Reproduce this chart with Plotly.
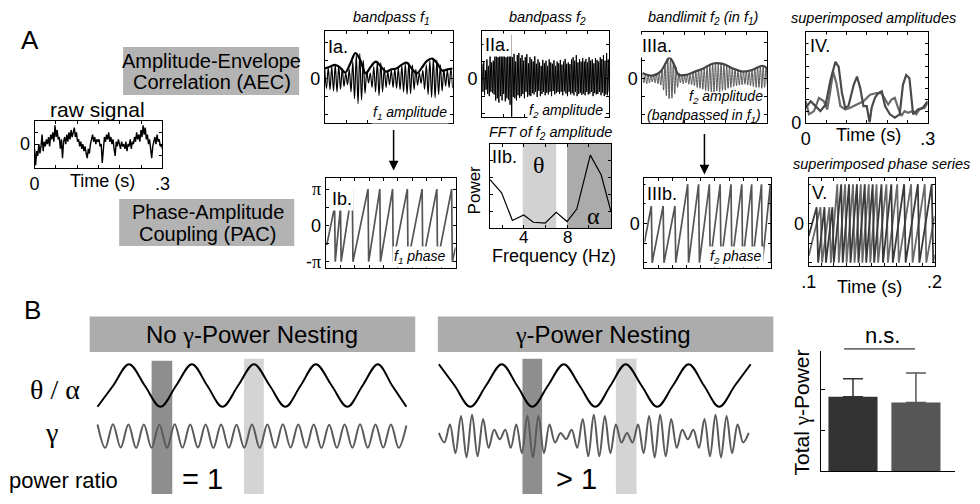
import numpy as np
import plotly.graph_objects as go

W, H = 980, 504
SANS = "Liberation Sans, Arial, Helvetica, sans-serif"
SERIF = "Liberation Serif, Times New Roman, serif"
PI = float(np.pi)

# ------------------------------------------------------------------ data
# raw signal (0 .. 0.3 s)
RAW = [-0.2, -0.9, -0.3, -0.5, 0.0, -0.4, -0.1, 0.4, -0.3, 0.1, -0.1, 0.2,
       0.0, 0.3, -0.1, 0.4, 0.2, 0.5, 0.1, 0.8, 0.3, 0.6, 0.2, 0.3,
       -0.2, 0.2, -0.6, 0.1, 0.3, 0.0, 0.4, 0.1, 0.5, 0.2, 0.6, 0.3,
       0.5, 0.7, 0.3, 0.5, 0.1, 0.2, -0.1, 0.1, -0.2, 0.0, -0.3, -0.1,
       -0.4, -0.6, -0.2, -0.4, 0.0, 0.2, 0.4, 0.1, 0.3, 0.0, 0.2, 0.1,
       0.2, -0.1, 0.0, -0.8, -0.2, 0.3, 0.1, 0.4, 0.2, 0.5, 0.1, 0.3,
       0.0, 0.2, -0.2, -0.5, 0.1, -0.1, 0.2, 0.0, -0.2, 0.1, -0.1, 0.0,
       -0.2, 0.1, -0.3, 0.0, -0.1, 0.2, -0.2, 0.1, 0.0, 0.3, 0.1, 0.5,
       0.2, 0.4, 0.1, 0.6, 0.3, 0.8, 0.4, 0.7, 0.2, 0.4, 0.0, 0.2,
       -0.3, -0.6, -0.1, 0.1, 0.3, 0.0, 0.4, 0.1, 0.2, -0.1, 0.0, -0.2]

# Ia: f1 band-passed signal (carrier extrema) and its amplitude envelope
IA_CARRIER = [0.2, -0.22, 0.24, -0.25, 0.26, -0.28, 0.3, -0.3, 0.28, -0.24, 0.22, -0.18,
              0.12, -0.14, 0.2, -0.3, 0.38, -0.45, 0.52, -0.56, 0.55, -0.48, 0.4, -0.33,
              0.15, -0.1, 0.12, -0.2, 0.26, -0.3, 0.36, -0.38, 0.35, -0.3, 0.24, -0.2,
              0.15, -0.14, 0.18, -0.2, 0.21, -0.22, 0.23, -0.25, 0.28, -0.3, 0.32, -0.35,
              0.35, -0.34, 0.3, -0.25, 0.2, -0.15, 0.12, -0.11, 0.18, -0.24, 0.3, -0.36,
              0.4, -0.42, 0.44, -0.43, 0.4, -0.36, 0.3, -0.28, 0.2, -0.17, 0.19, -0.2,
              0.21, -0.22]
IA_ENV = [0.22, 0.26, 0.30, 0.24, 0.13, 0.33, 0.56, 0.39, 0.11, 0.26, 0.37, 0.26, 0.15,
          0.20, 0.22, 0.30, 0.35, 0.22, 0.11, 0.24, 0.39, 0.44, 0.33, 0.17, 0.20, 0.22]

# Ib: f1 phase (sawtooth) -- peak times (s) and phase reached at each peak
IB_START = (0.0023, -1.7)
IB_PEAKS = [0.0205, 0.0341, 0.0614, 0.0977, 0.1250, 0.1545, 0.1886, 0.2227, 0.2568, 0.2909]
IB_PEAK_PH = [1.6, 1.6, PI, PI, PI, PI, PI, PI, PI, PI]
IB_END = (0.3, -1.9)

# IIa: f2 band-passed signal (dense extrema)
IIA = [0.35, -0.3, 0.4, -0.38, 0.2, -0.25, 0.45, -0.35, 0.3, -0.4, 0.55, -0.3, 0.38, -0.33, 0.42, -0.36,
       0.6, -0.5, 0.7, -0.45, 0.5, -0.55, 0.72, -0.4, 0.55, -0.5, 0.65, -0.35, 0.7, -0.52, 0.5, -0.45,
       0.62, -0.48, 0.55, -0.6, 1.02, -0.92, 0.5, -0.42, 0.58, -0.45, 0.4, -0.5, 0.55, -0.38, 0.6, -0.44,
       0.48, -0.4, 0.55, -0.35, 0.42, -0.45, 0.5, -0.3, 0.57, -0.42, 0.36, -0.38, 0.5, -0.4, 0.45, -0.33,
       0.4, -0.36, 0.52, -0.3, 0.35, -0.42, 0.45, -0.28, 0.38, -0.4, 0.3, -0.35, 0.44, -0.3, 0.36, -0.38,
       0.42, -0.32, 0.3, -0.36, 0.45, -0.3, 0.38, -0.4, 0.35, -0.28, 0.43, -0.36, 0.3, -0.33, 0.4, -0.3,
       0.36, -0.35, 0.44, -0.3, 0.33, -0.38, 0.4, -0.29, 0.46, -0.34, 0.35, -0.4, 0.38, -0.3, 0.34, -0.36,
       0.45, -0.33, 0.5, -0.38, 0.42, -0.3, 0.55, -0.4, 0.38, -0.35, 0.46, -0.32, 0.4, -0.37, 0.48, -0.34,
       0.4, -0.38, 0.46, -0.3, 0.38, -0.36, 0.5, -0.34, 0.42, -0.3, 0.45, -0.4, 0.36, -0.33, 0.48, -0.36,
       0.44, -0.35, 0.4, -0.3, 0.5, -0.38, 0.46, -0.32, 0.55, -0.4, 0.42, -0.36, 0.6, -0.38, 0.45, -0.3]

# IIb: spectrum of f2 amplitude
IIB_FREQ = [0.88, 1.95, 2.95, 4.0, 4.88, 5.97, 7.0, 8.0, 8.9, 10.15, 11.15, 12.06]
IIB_POWER = [0.578, 0.422, 0.093, 0.159, 0.073, 0.062, 0.19, 0.081, 0.229, 0.869, 0.636, 0.198]
IIB_TICK_LABELS = [4, 8]
THETA_BAND = [3.9, 7.0]
ALPHA_BAND = [8.0, 12.06]

# IIIa: f2 amplitude band-passed in f1 (carrier extrema) and envelope
IIIA_CARRIER = [0.12, -0.1, 0.1, -0.12, 0.08, -0.1, 0.07,
                -0.08, 0.06, -0.1, 0.09, -0.12, 0.12, -0.15,
                0.2, -0.26, 0.33, -0.38, 0.44, -0.45, 0.46,
                -0.44, 0.36, -0.34, 0.25, -0.2, 0.12, -0.1,
                0.08, -0.12, 0.07, -0.1, 0.09, -0.13, 0.1,
                -0.14, 0.13, -0.16, 0.15, -0.2, 0.17, -0.22,
                0.2, -0.24, 0.23, -0.27, 0.26, -0.28, 0.3,
                -0.3, 0.33, -0.3, 0.33, -0.28, 0.32, -0.3,
                0.32, -0.27, 0.3, -0.26, 0.28, -0.22, 0.25,
                -0.2, 0.22, -0.18, 0.2, -0.16, 0.18, -0.15,
                0.15, -0.14, 0.16, -0.13, 0.17, -0.15, 0.18,
                -0.16, 0.19, -0.18, 0.22, -0.2, 0.24, -0.2,
                0.27, -0.22, 0.28, -0.2, 0.24, -0.18]
IIIA_ENV_T = [0, 0.0237, 0.0434, 0.0553, 0.0647, 0.075, 0.0868, 0.1066, 0.1263, 0.146,
              0.1697, 0.1934, 0.2171, 0.2408, 0.2645, 0.2882, 0.3]
IIIA_ENV = [0.12, 0.06, 0.15, 0.33, 0.46, 0.33, 0.08, 0.08, 0.15, 0.22,
            0.33, 0.32, 0.22, 0.15, 0.19, 0.28, 0.22]

# IIIb: f2 phase
IIIB_START = (0.0, -1.5)
IIIB_PEAKS = [0.0163, 0.0442, 0.0721, 0.1023, 0.128, 0.1535, 0.179, 0.2047, 0.2302, 0.2535, 0.2768, 0.2977]
IIIB_PEAK_PH = [1.4, 1.4, 1.4, PI, PI, PI, PI, PI, PI, PI, PI, PI]
IIIB_END = (0.3, -2.9)

# IV: superimposed amplitudes
IV_A_T = [0, 0.012, 0.024, 0.036, 0.049, 0.061, 0.073, 0.081, 0.089, 0.097, 0.105, 0.118, 0.126,
          0.134, 0.142, 0.150, 0.157, 0.162, 0.170, 0.178, 0.187, 0.195, 0.207, 0.219, 0.231,
          0.239, 0.247, 0.255, 0.264, 0.276, 0.288, 0.300]
IV_A = [0.164, 0.236, 0.182, 0.127, 0.2, 0.473, 0.673, 0.618, 0.327, 0.164, 0.182, 0.418, 0.509,
        0.382, 0.182, 0.182, 0.0, 0.164, 0.273, 0.327, 0.345, 0.182, 0.091, 0.055, 0.091,
        0.418, 0.527, 0.491, 0.091, 0.145, 0.164, 0.236]
IV_B_T = [0, 0.0081, 0.0203, 0.0324, 0.0446, 0.0527, 0.0608, 0.0673, 0.0754, 0.0851, 0.0973,
          0.1095, 0.1257, 0.1419, 0.1581, 0.1743, 0.1865, 0.1946, 0.2027, 0.2108, 0.2189, 0.227,
          0.2351, 0.2432, 0.2514, 0.2635, 0.2716, 0.2797, 0.2919, 0.3]
IV_B = [0.236, 0.091, 0.127, 0.273, 0.236, 0.145, 0.364, 0.564, 0.436, 0.182, 0.145, 0.164,
        0.2, 0.236, 0.309, 0.327, 0.327, 0.255, 0.2, 0.255, 0.273, 0.164, 0.073, 0.127,
        0.109, 0.127, 0.091, 0.145, 0.164, 0.218]

# V: superimposed phase series (0.1 .. 0.2 s)
V1_START = (0.1, -1.0)
V1_PEAKS = [0.1063, 0.1125, 0.1188, 0.1258, 0.132, 0.1383, 0.1445, 0.1508, 0.1578, 0.1656,
            0.1758, 0.1867, 0.1977]
V1_PEAK_PH = [1.3, 1.3, 1.3, PI, PI, PI, PI, PI, PI, PI, PI, PI, PI]
V1_END = (0.2, -2.5)
V2_START = (0.1, -2.6)
V2_PEAKS = [0.1094, 0.1164, 0.1227, 0.1289, 0.1352, 0.1414, 0.1477, 0.1539, 0.1617, 0.1703,
            0.1813, 0.1922]
V2_PEAK_PH = [1.3, 1.3, PI, PI, PI, PI, PI, PI, PI, PI, PI, PI]
V2_END = (0.2, 0.6)

# B: schematic oscillations (time in ms)
THETA_L_T = [8, 24, 40, 56, 72, 88, 104, 119.5, 135, 151, 167, 183, 199, 214.5, 230, 246,
             262, 277.5, 293, 307.5, 322]
THETA_L = [-1, 0, 1, 0, -1, 0, 1, 0, -1, 0, 1, 0, -1, 0, 1, 0, -1, 0, 1, 0, -1]
GAMMA_L = [0.55, -0.55, 0.56, -0.54, 0.55, -0.56, 0.55, -0.55, 0.54, -0.55, 0.56, -0.55,
           0.55, -0.54, 0.55, -0.56, 0.55, -0.55, 0.54, -0.55, 0.55, -0.56, 0.55, -0.55,
           0.56, -0.54, 0.55, -0.55, 0.55, -0.56, 0.54, -0.55, 0.55, -0.55, 0.56, -0.55,
           0.55, -0.54, 0.55, -0.55, 0.5]
GAMMA_L_SPAN = (8, 322)
THETA_R_T = [1, 17, 33, 49, 65, 80.5, 96, 112, 128, 144, 160, 175.5, 191, 207, 223, 239,
             255, 270.5, 286, 302, 318]
THETA_R = [1, 0, -1, 0, 1, 0, -1, 0, 1, 0, -1, 0, 1, 0, -1, 0, 1, 0, -1, 0, 1]
GAMMA_R = [0.15, -0.3, 0.55, -0.8, 0.95, -1.0, 1.0, -0.95, 0.8, -0.55, 0.3, -0.15, 0.3, -0.55,
           0.55, -0.8, 0.95, -1.0, 0.95, -0.8, 0.55, -0.3, 0.15, -0.15, 0.3, -0.55, 0.8, -0.95,
           1.0, -0.95, 0.95, -0.8, 0.55, -0.3, 0.15, -0.3, 0.55, -0.8, 0.95, -1.0, 1.0, -0.95,
           0.8, -0.55, 0.3, -0.15, 0.3, -0.55, 0.8, -0.95, 1.0, -1.0, 0.95, -0.8, 0.55, -0.3, 0.15]
GAMMA_R_SPAN = (1, 316)

# B: total gamma power bar chart
BAR_X = [0, 1]
BAR_VALUES = [1.83, 1.69]
BAR_ERR = [0.44, 0.72]
BAR_COLORS = ["#333333", "#565656"]

# ------------------------------------------------------------------ helpers
def fx(p):
    return p / W


def fy(p):
    return 1 - p / H


def sawtooth(start, peaks, peak_ph, end, eps):
    xs, ys = [start[0]], [start[1]]
    for p, h in zip(peaks, peak_ph):
        xs += [p, p + eps]
        ys += [h, -PI]
    xs.append(end[0])
    ys.append(end[1])
    return xs, ys


fig = go.Figure()
layout = dict(width=W, height=H, margin=dict(l=0, r=0, t=0, b=0, pad=0), autosize=False,
              paper_bgcolor="white", plot_bgcolor="rgba(0,0,0,0)", showlegend=False,
              font=dict(family=SANS, color="black", size=14), barmode="overlay")
annotations = []
shapes = []


def ids(n):
    return ("x", "y") if n == 1 else (f"x{n}", f"y{n}")


def frame_axis(a, maj, lab, mn):
    a.update(showline=True, linecolor="black", linewidth=1, mirror="ticks",
             ticks="inside", ticklen=3, tickwidth=1, tickcolor="black",
             tickmode="array", tickvals=list(maj), ticktext=list(lab),
             showticklabels=bool(maj),
             tickfont=dict(size=18, family=SANS, color="black"),
             minor=dict(tickmode="array", tickvals=list(mn), ticks="inside", ticklen=3,
                        tickwidth=1, tickcolor="black", showgrid=False))


def add_axes(n, box, xr, yr, xmaj=(), xlab=(), xmin=(), ymaj=(), ylab=(), ymin=(), frame=True):
    x0, x1, y0, y1 = box
    xi, yi = ids(n)
    xa = dict(domain=[fx(x0), fx(x1)], range=xr, anchor=yi, showgrid=False, zeroline=False,
              fixedrange=True)
    ya = dict(domain=[fy(y1), fy(y0)], range=yr, anchor=xi, showgrid=False, zeroline=False,
              fixedrange=True)
    if frame:
        frame_axis(xa, xmaj, xlab, xmin)
        frame_axis(ya, ymaj, ylab, ymin)
    else:
        xa["visible"] = False
        ya["visible"] = False
    layout["xaxis" if n == 1 else f"xaxis{n}"] = xa
    layout["yaxis" if n == 1 else f"yaxis{n}"] = ya
    return xi, yi


def line(n, x, y, color="black", width=1.0, shape="linear"):
    xi, yi = ids(n)
    fig.add_trace(go.Scatter(x=x, y=y, mode="lines", xaxis=xi, yaxis=yi, hoverinfo="skip",
                             line=dict(color=color, width=width, shape=shape)))


def text(x, y, s, size=14, family=SANS, xanchor="center", yanchor="middle", bg=None,
         angle=0, xref="paper"):
    a = dict(x=fx(x) if xref == "paper" else x, y=fy(y), xref=xref, yref="paper", text=s,
             showarrow=False, xanchor=xanchor, yanchor=yanchor, textangle=angle,
             font=dict(size=size, family=family, color="black"), borderpad=1)
    if bg:
        a["bgcolor"] = bg
    annotations.append(a)


def rect(x0, y0, x1, y1, color, layer="below"):
    shapes.append(dict(type="rect", xref="paper", yref="paper", x0=fx(x0), x1=fx(x1),
                       y0=fy(y1), y1=fy(y0), fillcolor=color, line=dict(width=0), layer=layer))


def arrow(x, y_tail, y_head):
    annotations.append(dict(x=fx(x), y=fy(y_head), xref="paper", yref="paper", ax=0,
                            ay=y_tail - y_head, text="", showarrow=True, arrowhead=2,
                            arrowsize=1.3, arrowwidth=1.5, arrowcolor="black"))


def sp(s):
    return f"<span style='font-family:{SERIF}'>{s}</span>"


T_MINOR = [0.05, 0.1, 0.15, 0.2, 0.25]
Y_MINOR = [-0.8, -0.4, 0.4, 0.8]
PH_MINOR = [-PI, -PI / 2, PI / 2, PI]

# ------------------------------------------------------------------ panel A
text(22, 41, "A", 26)
rect(117, 48, 296, 97, "#b3b3b3")
text(207, 62, "Amplitude-Envelope", 20)
text(207, 84, "Correlation (AEC)", 20)
rect(113, 203, 291, 251, "#b3b3b3")
text(203, 216, "Phase-Amplitude", 20)
text(203, 239, "Coupling (PAC)", 20)

# raw signal
add_axes(1, (27, 157, 123, 171), [0, 0.3], [-1, 1], [0, 0.3], ["0", ".3"], T_MINOR,
         [0], ["0"], [-0.5, 0.5])
line(1, np.linspace(0, 0.3, len(RAW)), RAW, "black", 1.4)
text(91, 112, "raw signal", 21)
text(96, 185, "Time (s)", 18)

# Ia
add_axes(2, (322, 452, 32, 125), [0, 0.3], [-0.978, 1.043], (), (), T_MINOR,
         [0], ["0"], Y_MINOR)
line(2, np.linspace(0, 0.3, len(IA_CARRIER)), IA_CARRIER, "black", 1.2, "spline")
line(2, np.linspace(0, 0.3, len(IA_ENV)), IA_ENV, "black", 2.2, "spline")
text(390, 18, "<i>bandpass f<sub>1</sub></i>", 14.5)
text(335, 48, "Ia.", 18)
text(448, 115, "<i>f<sub>1</sub> amplitude</i>", 14, xanchor="right", bg="white")
arrow(392, 132, 174)

# Ib
add_axes(3, (323, 455, 182, 273), [0, 0.3], [-3.65, 4.07], (), (), [i / 30 for i in range(1, 9)],
         [-PI, 0, PI], ["-" + sp("π"), "0", sp("π")], [-PI / 2, PI / 2])
xs, ys = sawtooth(IB_START, IB_PEAKS, IB_PEAK_PH, IB_END, 0.0015)
line(3, xs, ys, "#555555", 1.7)
text(340, 203, "Ib.", 18, bg="white")
text(447, 262, "<i>f<sub>1</sub> phase</i>", 14, xanchor="right", bg="white")

# IIa
add_axes(4, (482, 611, 32, 119), [0, 0.3], [-0.875, 1.10], (), (), T_MINOR,
         [0], ["0"], Y_MINOR)
line(4, np.linspace(0, 0.3, len(IIA)), IIA, "black", 1.0)
text(548, 18, "<i>bandpass f<sub>2</sub></i>", 14.5)
text(498, 46, "IIa.", 18, bg="white")
text(607, 113, "<i>f<sub>2</sub> amplitude</i>", 14, xanchor="right", bg="white")

# IIb
add_axes(5, (490, 613, 147, 233), [0.88, 12.06], [0, 1], (), (), [2, 4, 6, 8, 10, 12],
         (), (), [0.2, 0.4, 0.6, 0.8])
for band, col in ((THETA_BAND, "#d2d2d2"), (ALPHA_BAND, "#ababab")):
    shapes.append(dict(type="rect", xref="x5", yref="y5", x0=band[0], x1=band[1], y0=0, y1=1,
                       fillcolor=col, line=dict(width=0), layer="below"))
line(5, IIB_FREQ, IIB_POWER, "black", 1.2)
for f in IIB_TICK_LABELS:
    text(f, 242, str(f), 17, xref="x5")
text(551, 136, "<i>FFT of f<sub>2</sub> amplitude</i>", 14.5)
text(505, 160, "IIb.", 18)
text(540, 168, "θ", 24, SERIF)
text(595, 220, "α", 24, SERIF)
text(474, 194, "Power", 17, angle=-90)
text(555, 261, "Frequency (Hz)", 18)

# IIIa
add_axes(6, (645, 772, 33, 125), [0, 0.3], [-0.978, 1.02], (), (), T_MINOR,
         [0], ["0"], Y_MINOR)
line(6, np.linspace(0, 0.3, len(IIIA_CARRIER)), IIIA_CARRIER, "#555555", 1.0, "spline")
line(6, IIIA_ENV_T, IIIA_ENV, "#444444", 2.2, "spline")
text(707, 18, "<i>bandlimit f<sub>2</sub> (in f<sub>1</sub>)</i>", 14.5)
text(660, 47, "IIIa.", 18, bg="white")
text(770, 99, "<i>f<sub>2</sub> amplitude</i>", 14, xanchor="right")
text(768, 118, "<i>(bandpassed in f<sub>1</sub>)</i>", 14, xanchor="right")
arrow(708, 136, 178)

# IIIb
add_axes(7, (647, 776, 182, 273), [0, 0.3], [-3.53, 3.61], (), (), [i / 30 for i in range(1, 9)],
         [0], ["0"], PH_MINOR)
xs, ys = sawtooth(IIIB_START, IIIB_PEAKS, IIIB_PEAK_PH, IIIB_END, 0.002)
line(7, xs, ys, "#555555", 1.7)
text(665, 198, "IIIb.", 18, bg="white")
text(769, 262, "<i>f<sub>2</sub> phase</i>", 14, xanchor="right", bg="white")

# IV
add_axes(8, (811, 935, 33, 125), [0, 0.3], [0, 1], [0, 0.3], ["0", ".3"], T_MINOR,
         [0], ["0"], [0.125, 0.25, 0.375, 0.5, 0.625, 0.75, 0.875])
line(8, IV_B_T, IV_B, "#6a6a6a", 2.2)
line(8, IV_A_T, IV_A, "#4a4a4a", 2.2)
text(880, 18, "<i>superimposed amplitudes</i>", 14.5)
text(825, 47, "IV.", 18, bg="white")
text(875, 138, "Time (s)", 18)

# V
add_axes(9, (814, 942, 182, 271), [0.1, 0.2], [-3.38, 3.61], [0.1, 0.2], [".1", ".2"],
         [0.1 + i / 100 for i in range(1, 10)], [0], ["0"], PH_MINOR)
xs, ys = sawtooth(V2_START, V2_PEAKS, V2_PEAK_PH, V2_END, 0.0012)
line(9, xs, ys, "#6a6a6a", 1.8)
xs, ys = sawtooth(V1_START, V1_PEAKS, V1_PEAK_PH, V1_END, 0.0012)
line(9, xs, ys, "#3a3a3a", 1.8)
text(888, 167, "<i>superimposed phase series</i>", 14.5)
text(825, 197, "V.", 18, bg="white")
text(876, 293, "Time (s)", 18)

# ------------------------------------------------------------------ panel B
text(25, 316, "B", 26)
rect(83, 323, 414, 359, "#acacac")
rect(437, 323, 778, 359, "#acacac")
text(248, 341, "No " + sp("γ") + "-Power Nesting", 24)
text(605, 341, sp("γ") + "-Power Nesting", 24)
text(48, 397, "θ / α", 28, SERIF)
text(44, 441, "γ", 28, SERIF)
text(56, 490, "power ratio", 22)
text(198, 489, "= 1", 29)
text(578, 489, "> 1", 29)
rect(146, 368, 167, 504, "#8e8e8e")
rect(240, 366, 260, 504, "#d4d4d4")
rect(523, 366, 543, 504, "#8e8e8e")
rect(618, 366, 639, 504, "#d4d4d4")

WAVE_YR = [-3.765, 1.535]
GAMMA_OFFSET = -2.38
add_axes(10, (83, 414, 360, 475), [0, 331], WAVE_YR, frame=False)
line(10, THETA_L_T, THETA_L, "black", 2.0, "spline")
line(10, np.linspace(*GAMMA_L_SPAN, len(GAMMA_L)), [v + GAMMA_OFFSET for v in GAMMA_L],
     "#5a5a5a", 2.0, "spline")
add_axes(11, (437, 778, 360, 475), [0, 341], WAVE_YR, frame=False)
line(11, THETA_R_T, THETA_R, "black", 2.0, "spline")
line(11, np.linspace(*GAMMA_R_SPAN, len(GAMMA_R)), [v + GAMMA_OFFSET for v in GAMMA_R],
     "#5a5a5a", 2.0, "spline")

# bar chart
layout["xaxis12"] = dict(domain=[fx(827), fx(963)], range=[-0.5, 1.625], anchor="y12",
                         showline=True, linecolor="black", linewidth=1, ticks="",
                         showticklabels=False, showgrid=False, zeroline=False, fixedrange=True)
layout["yaxis12"] = dict(domain=[fy(481), fy(358)], range=[0, 2.95], anchor="x12",
                         showline=True, linecolor="black", linewidth=1, ticks="inside",
                         ticklen=4, tickcolor="black", tickmode="array", tickvals=[1, 2],
                         showticklabels=False, showgrid=False, zeroline=False, fixedrange=True)
for i in range(len(BAR_X)):
    fig.add_trace(go.Bar(x=[BAR_X[i]], y=[BAR_VALUES[i]], width=0.78, xaxis="x12", yaxis="y12",
                         marker=dict(color=BAR_COLORS[i], line=dict(width=0)),
                         error_y=dict(type="data", symmetric=False, array=[BAR_ERR[i]],
                                      arrayminus=[0], color=BAR_COLORS[i], thickness=1.5,
                                      width=10),
                         hoverinfo="skip"))
text(889, 342, "n.s.", 22)
shapes.append(dict(type="line", xref="paper", yref="paper", x0=fx(850), x1=fx(922), y0=fy(356),
                   y1=fy(356), line=dict(color="black", width=1)))
text(807, 421, "Total " + sp("γ") + "-Power", 21, angle=-90)

layout["annotations"] = annotations
layout["shapes"] = shapes
fig.update_layout(**layout)
fig.write_html("out.html", config={"displayModeBar": False})
